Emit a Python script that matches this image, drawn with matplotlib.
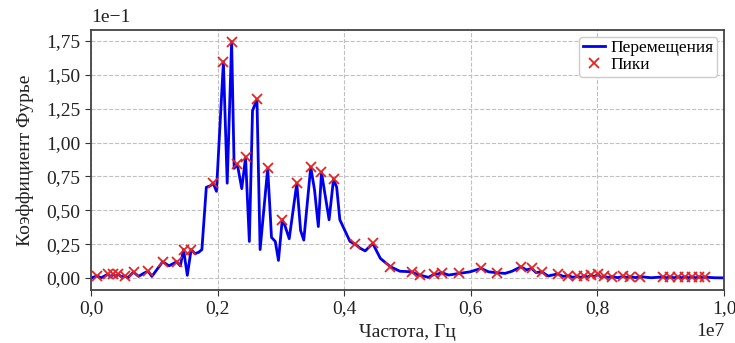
import matplotlib
matplotlib.use("Agg")
import matplotlib.pyplot as plt
from matplotlib.ticker import FuncFormatter, MultipleLocator

plt.rcParams['font.family'] = ['Liberation Serif', 'DejaVu Serif']

# Frequency, MHz
freq_mhz = [
    0.00, 0.09, 0.16, 0.26, 0.31, 0.35, 0.39, 0.43, 0.48, 0.53, 0.58, 0.67, 0.75, 0.83, 0.90, 0.96,
    1.13, 1.23, 1.35, 1.41, 1.46, 1.52, 1.58, 1.64, 1.70, 1.75, 1.82, 1.88, 1.93, 1.98,
    2.09, 2.15, 2.22, 2.26, 2.31, 2.38, 2.44, 2.50, 2.55, 2.62, 2.67, 2.79, 2.85, 2.91, 2.96,
    3.02, 3.06, 3.13, 3.25, 3.31, 3.36, 3.47, 3.53, 3.59, 3.64, 3.76, 3.83, 3.88, 3.93,
    4.01, 4.09, 4.17, 4.25, 4.33, 4.45, 4.57, 4.73, 4.88, 5.07, 5.13, 5.19, 5.33, 5.42, 5.48,
    5.54, 5.65, 5.82, 5.99, 6.16, 6.28, 6.41, 6.54, 6.65, 6.79, 6.88, 6.96, 7.03, 7.12, 7.22,
    7.37, 7.46, 7.54, 7.61, 7.68, 7.74, 7.79, 7.85, 7.90, 7.95, 8.01, 8.06, 8.11, 8.17, 8.23,
    8.32, 8.41, 8.46, 8.52, 8.60, 8.68, 8.85, 9.03, 9.09, 9.15, 9.21, 9.28, 9.33, 9.38, 9.44,
    9.49, 9.55, 9.61, 9.66, 9.70, 9.85, 10.00,
]

# Fourier coefficient, units of 1e-1
amp_e1 = [
    0.000, 0.015, 0.002, 0.027, 0.012, 0.027, 0.012, 0.027, 0.008, 0.015, 0.002, 0.044, 0.012, 0.035, 0.050, 0.012,
    0.120, 0.090, 0.120, 0.090, 0.210, 0.020, 0.210, 0.180, 0.190, 0.210, 0.670, 0.680, 0.700, 0.640,
    1.595, 0.700, 1.745, 0.810, 0.840, 0.660, 0.890, 0.270, 1.235, 1.320, 0.210, 0.810, 0.300, 0.270, 0.130,
    0.430, 0.390, 0.290, 0.700, 0.350, 0.280, 0.820, 0.650, 0.380, 0.780, 0.430, 0.730, 0.670, 0.430,
    0.350, 0.270, 0.250, 0.220, 0.200, 0.255, 0.145, 0.083, 0.050, 0.046, 0.030, 0.022, 0.005, 0.027, 0.030,
    0.039, 0.022, 0.034, 0.046, 0.071, 0.046, 0.039, 0.034, 0.050, 0.083, 0.060, 0.071, 0.040, 0.046, 0.015,
    0.030, 0.012, 0.018, 0.005, 0.012, 0.005, 0.015, 0.008, 0.022, 0.010, 0.028, 0.005, 0.012, 0.004, 0.010,
    0.003, 0.012, 0.004, 0.010, 0.003, 0.010, 0.002, 0.008, 0.002, 0.008, 0.002, 0.008, 0.002, 0.008, 0.002,
    0.008, 0.002, 0.008, 0.002, 0.006, 0.002, 0.001,
]

# Indices of detected peaks in the series above
peak_idx = [1, 3, 5, 7, 9, 11, 14, 16, 18, 20, 22, 28, 30, 32, 34, 36, 39, 41, 45, 48, 51, 54, 56,
            61, 64, 66, 68, 70, 72, 74, 76, 78, 80, 83, 85, 87, 89, 91, 93, 95, 97, 99, 101, 103,
            105, 107, 109, 111, 113, 115, 117, 119, 121, 123]

line_label = "Перемещения"
peak_label = "Пики"
x_label = "Частота, Гц"
y_label = "Коэффициент Фурье"

freq = [f * 1e6 for f in freq_mhz]
amp = [a * 0.1 for a in amp_e1]
pk_f = [freq[i] for i in peak_idx]
pk_a = [amp[i] for i in peak_idx]

fig = plt.figure(figsize=(7.35, 3.43), dpi=100)
ax = fig.add_axes([0.124, 0.155, 0.861, 0.758])

ax.plot(freq, amp, color='#0000ee', lw=2.0, label=line_label, zorder=2)
ax.plot(pk_f, pk_a, 'x', color='#e8231f', ms=6.5, mew=1.3, label=peak_label, zorder=3)

ax.set_xlim(0, 1.0e7)
ax.margins(y=0.05)
ax.xaxis.set_major_locator(MultipleLocator(0.2e7))
ax.yaxis.set_major_locator(MultipleLocator(0.025))
ax.xaxis.set_major_formatter(FuncFormatter(lambda v, p: f"{v / 1e7:.1f}".replace('.', ',')))
ax.yaxis.set_major_formatter(FuncFormatter(lambda v, p: f"{v / 0.1:.2f}".replace('.', ',')))

ax.grid(True, ls='--', color='#c0c0c0', lw=0.8)
for s in ax.spines.values():
    s.set_color('#444444')
    s.set_linewidth(1.3)
ax.tick_params(labelsize=14, colors='#333333', length=4)
for lab in ax.get_xticklabels() + ax.get_yticklabels():
    lab.set_color('#222222')

ax.set_xlabel(x_label, fontsize=14, color='#222222', labelpad=5)
ax.set_ylabel(y_label, fontsize=14, color='#222222', labelpad=9)
ax.text(0.0, 1.015, "1e\u22121", transform=ax.transAxes, ha='left', va='bottom', fontsize=14, color='#222222')
fig.text(0.985, 0.008, "1e7", ha='right', va='bottom', fontsize=14, color='#222222')

leg = ax.legend(loc='upper right', fontsize=12.5, handlelength=1.3, handletextpad=0.3, borderpad=0.2,
                labelspacing=0.05, borderaxespad=0.4, framealpha=1, edgecolor='#cccccc', fancybox=True)

fig.savefig("out.png", dpi=100)
